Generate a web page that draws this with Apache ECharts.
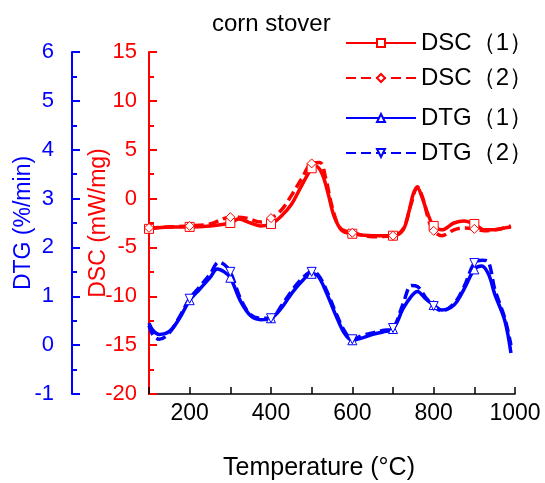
<!DOCTYPE html>
<html>
<head>
<meta charset="utf-8">
<script src="https://cdn.jsdelivr.net/npm/echarts@6/dist/echarts.min.js"></script>
<style>html,body{margin:0;padding:0;background:#fff}#c{width:545px;height:483px}</style>
</head>
<body>
<div id="c"></div>
<script>
// Temperature (°C) sample points per series
const dsc1T = [100,150,200,250,300,320,350,375,400,425,450,475,500,510,525,540,555,575,600,650,700,725,740,750,760,770,785,800,820,850,875,900,925,950,975,990];
const dsc1V = [-3.1,-2.9,-2.9,-2.8,-2.5,-2.1,-2.5,-2.8,-2.6,-1.8,-0.6,1.3,3.1,3.3,2.6,0.6,-1.8,-3.3,-3.6,-3.8,-3.8,-3.2,-1.2,0.5,1.1,0.3,-1.5,-2.8,-3.2,-2.5,-2.3,-2.6,-3.2,-3.2,-3.0,-2.9];
const dsc2T = [100,150,200,250,300,340,375,400,425,450,475,500,520,535,550,570,600,650,700,725,745,760,772,790,800,820,850,875,900,925,950,975,990];
const dsc2V = [-3.0,-2.9,-2.8,-2.6,-1.9,-2.0,-2.4,-2.0,-1.2,0.3,2.0,3.6,3.7,2.0,-0.8,-3.0,-3.5,-3.9,-3.8,-3.1,-0.5,1.2,0.2,-2.5,-3.3,-3.8,-3.2,-3.0,-3.1,-3.3,-3.2,-3.0,-2.8];
const dtg1T = [100,110,125,150,175,200,225,250,268,285,300,325,350,375,400,425,450,475,500,515,535,560,580,600,625,650,675,700,725,745,760,780,800,820,850,875,900,918,935,950,975,990];
const dtg1V = [0.45,0.3,0.22,0.28,0.55,0.92,1.15,1.38,1.56,1.5,1.38,0.9,0.6,0.52,0.55,0.75,1.05,1.3,1.46,1.42,1.1,0.6,0.25,0.1,0.15,0.22,0.27,0.33,0.75,1.0,1.1,0.95,0.82,0.72,0.82,1.15,1.55,1.62,1.45,1.05,0.5,-0.16];
const dtg2T = [100,110,125,150,175,200,225,250,272,285,300,325,350,375,400,425,450,475,500,515,535,560,580,600,625,650,675,700,725,745,760,780,800,820,850,875,900,920,935,950,975,990];
const dtg2V = [0.4,0.2,0.12,0.25,0.58,0.95,1.2,1.45,1.7,1.65,1.5,0.95,0.62,0.55,0.55,0.8,1.1,1.35,1.5,1.45,1.15,0.65,0.3,0.12,0.2,0.25,0.3,0.35,0.85,1.22,1.2,0.98,0.8,0.7,0.85,1.2,1.68,1.74,1.7,1.15,0.55,0.0];
const xTicks = [200,400,600,800,1000];
const dscTicks = [-20,-15,-10,-5,0,5,10,15];
const dtgTicks = [-1,0,1,2,3,4,5,6];
const seriesNames = ['DSC（1）','DSC（2）','DTG（1）','DTG（2）'];

const FONT = 'Liberation Sans, Arial, sans-serif';
const RED = '#ff0000', BLUE = '#0000ff';

function pts(T, V, firstMark) {
  return T.map((t, i) => (t % 100 === 0 && (firstMark || t > 100))
    ? { value: [t, V[i]] }
    : { value: [t, V[i]], symbol: 'none' });
}

function mkSeries(name, T, V, color, dashed, symbol, yIdx, firstMark) {
  return {
    name: name, type: 'line', yAxisIndex: yIdx,
    data: pts(T, V, firstMark), smooth: 0.35, showAllSymbol: true,
    symbol: symbol, symbolSize: 9,
    itemStyle: { color: '#fff', borderColor: color, borderWidth: 1 },
    lineStyle: { color: color, width: 3.5, type: dashed ? [10, 5] : 'solid' },
    emphasis: { disabled: true }, animation: false, z: 3
  };
}

const chart = echarts.init(document.getElementById('c'), null, { renderer: 'canvas' });
chart.setOption({
  backgroundColor: '#fff',
  animation: false,
  textStyle: { fontFamily: FONT },
  title: {
    text: 'corn stover', left: 207, top: 7,
    textStyle: { fontFamily: FONT, fontSize: 24, fontWeight: 'normal', color: '#000' }
  },
  legend: [
    { data: [seriesNames[0], seriesNames[1]], orient: 'vertical', left: 340, top: 24,
      itemWidth: 70, itemHeight: 10, itemGap: 7, selectedMode: false,
      textStyle: { fontFamily: FONT, fontSize: 24, color: '#000', lineHeight: 28 } },
    { data: [seriesNames[2], seriesNames[3]], orient: 'vertical', left: 340, top: 99,
      itemWidth: 70, itemHeight: 10, itemGap: 7, selectedMode: false,
      textStyle: { fontFamily: FONT, fontSize: 24, color: '#000', lineHeight: 28 } }
  ],
  grid: { left: 149, right: 30, top: 52, bottom: 89, containLabel: false, outerBoundsMode: 'none' },
  xAxis: {
    type: 'value', min: 100, max: 1000, interval: 100,
    name: 'Temperature (°C)', nameLocation: 'middle', nameGap: 62, nameMoveOverlap: false,
    nameTextStyle: { fontFamily: FONT, fontSize: 25, color: '#000', padding: [0, 26, 0, 0] },
    axisLine: { onZero: false, lineStyle: { color: '#000', width: 1.5 } },
    axisTick: { inside: true, length: 7, lineStyle: { color: '#000', width: 1.5 } },
    axisLabel: {
      fontFamily: FONT, fontSize: 23, color: '#000', margin: 8,
      formatter: v => xTicks.indexOf(v) >= 0 ? String(v) : ''
    },
    splitLine: { show: false }
  },
  yAxis: [
    {
      type: 'value', min: -20, max: 15, interval: 5, position: 'left', offset: 0,
      name: 'DSC (mW/mg)', nameLocation: 'middle', nameGap: 39, nameRotate: 90, nameMoveOverlap: false,
      nameTextStyle: { fontFamily: FONT, fontSize: 23, color: RED },
      axisLine: { show: true, onZero: false, lineStyle: { color: RED, width: 2 } },
      axisTick: { show: true, inside: true, length: 8, lineStyle: { color: RED, width: 2 } },
      minorTick: { show: true, splitNumber: 2, length: 5, lineStyle: { color: RED, width: 2 } },
      axisLabel: { fontFamily: FONT, fontSize: 22, color: RED, margin: 12,
        formatter: v => dscTicks.indexOf(v) >= 0 ? String(v) : '' },
      splitLine: { show: false }
    },
    {
      type: 'value', min: -1, max: 6, interval: 1, position: 'left', offset: 77,
      name: 'DTG (%/min)', nameLocation: 'middle', nameGap: 37, nameRotate: 90, nameMoveOverlap: false,
      nameTextStyle: { fontFamily: FONT, fontSize: 23, color: BLUE },
      axisLine: { show: true, onZero: false, lineStyle: { color: BLUE, width: 2 } },
      axisTick: { show: true, inside: true, length: 8, lineStyle: { color: BLUE, width: 2 } },
      minorTick: { show: true, splitNumber: 2, length: 5, lineStyle: { color: BLUE, width: 2 } },
      axisLabel: { fontFamily: FONT, fontSize: 22, color: BLUE, margin: 18,
        formatter: v => dtgTicks.indexOf(v) >= 0 ? String(v) : '' },
      splitLine: { show: false }
    }
  ],
  series: [
    mkSeries(seriesNames[0], dsc1T, dsc1V, RED, false, 'rect', 0, true),
    mkSeries(seriesNames[1], dsc2T, dsc2V, RED, true, 'diamond', 0, true),
    mkSeries(seriesNames[2], dtg1T, dtg1V, BLUE, false, 'triangle', 1, false),
    Object.assign(mkSeries(seriesNames[3], dtg2T, dtg2V, BLUE, true, 'triangle', 1, false), { symbolRotate: 180 })
  ]
});
</script>
</body>
</html>
